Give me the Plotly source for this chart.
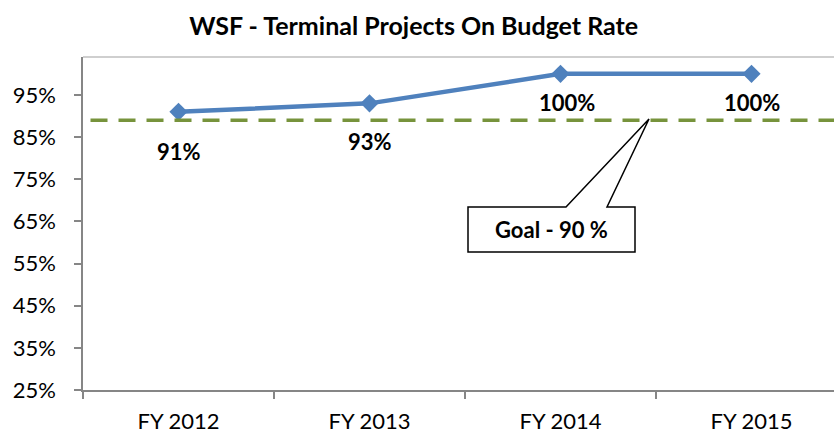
import plotly.graph_objects as go

categories = ["FY 2012", "FY 2013", "FY 2014", "FY 2015"]
rates = [91, 93, 100, 100]
labels = ["91%", "93%", "100%", "100%"]
goal_value = 89
goal_text = "Goal - 90 %"
y_ticks = [25, 35, 45, 55, 65, 75, 85, 95]
y_ticktext = ["25%", "35%", "45%", "55%", "65%", "75%", "85%", "95%"]

W, H = 834, 438
ml, mr, mt, mb = 83, 0, 57, 48
pw, ph = W - ml - mr, H - mt - mb

def px(x):
    return (x - ml) / pw

def py(y):
    return (H - mb - y) / ph

FONT = "Lato"

fig = go.Figure()

# goal line
fig.add_shape(type="line", xref="paper", yref="y", x0=0.01, x1=1, y0=goal_value, y1=goal_value,
              line=dict(color="#77933C", width=3.5, dash="17px,11px"))

fig.add_trace(go.Scatter(
    x=categories, y=rates, mode="lines+markers",
    line=dict(color="#4F81BD", width=4.5),
    marker=dict(symbol="diamond", size=14, color="#4F81BD"),
    hoverinfo="skip", showlegend=False, cliponaxis=False,
))

shifts = [-40, -38, -29, -29]
xshifts = [0, 0, 6, 0]
for c, v, t, s, xs in zip(categories, rates, labels, shifts, xshifts):
    fig.add_annotation(x=c, y=v, text=f"<b>{t}</b>", showarrow=False, yshift=s, xshift=xs,
                       font=dict(family=FONT, size=22, color="black"))

# top border of plot area
fig.add_shape(type="line", xref="paper", yref="paper", x0=0, x1=1, y0=1, y1=1,
              line=dict(color="#BFBFBF", width=1.5))

# callout
x1, x2, y1, y2 = px(468), px(635), py(207), py(252)
path = (f"M {x1},{y1} L {px(566)},{y1} L {px(649)},{py(119)} L {px(607)},{y1} "
        f"L {x2},{y1} L {x2},{y2} L {x1},{y2} Z")
fig.add_shape(type="path", xref="paper", yref="paper", path=path,
              fillcolor="white", line=dict(color="black", width=1.5))
fig.add_annotation(xref="paper", yref="paper", x=(x1 + x2) / 2, y=(y1 + y2) / 2,
                   text=f"<b>{goal_text}</b>", showarrow=False,
                   font=dict(family=FONT, size=22, color="black"))

fig.update_layout(
    width=W, height=H,
    margin=dict(l=ml, r=mr, t=mt, b=mb, autoexpand=False),
    paper_bgcolor="white", plot_bgcolor="white",
    title=dict(text="<b>WSF - Terminal Projects On Budget Rate</b>", x=0.496, xanchor="center",
               y=0.94, yanchor="middle", yref="container",
               font=dict(family=FONT, size=25, color="black")),
    font=dict(family=FONT, size=22, color="black"),
)
fig.update_xaxes(type="category", range=[-0.5, -0.5 + pw / 191], showgrid=False,
                 showline=True, linecolor="#868686", linewidth=1.5, automargin=False,
                 ticks="outside", ticklen=7, tickcolor="#868686", tickwidth=1.5,
                 tickson="boundaries", ticklabelstandoff=11,
                 tickfont=dict(family=FONT, size=22, color="black"))
fig.update_yaxes(range=[25, 104], tickvals=y_ticks, ticktext=y_ticktext, showgrid=False,
                 showline=True, linecolor="#868686", linewidth=1.5, zeroline=False,
                 automargin=False,
                 ticks="outside", ticklen=7, tickcolor="#868686", tickwidth=1.5,
                 ticklabelstandoff=14,
                 tickfont=dict(family=FONT, size=22, color="black"))

fig.write_html("out.html", config={"displayModeBar": False},
               post_script="document.body.style.margin='0';")
